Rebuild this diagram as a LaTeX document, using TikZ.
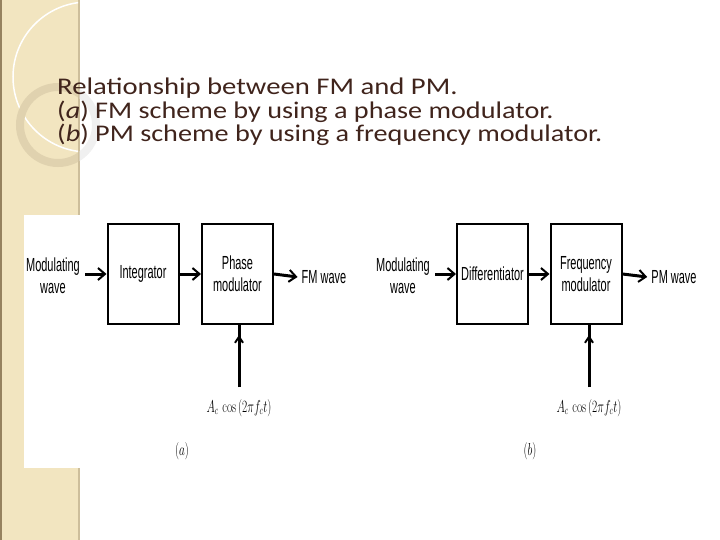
\documentclass[tikz,border=0pt]{standalone}
\usepackage[no-math]{fontspec}
\setmainfont{Carlito}
\newfontfamily\diagfont{Liberation Sans}
\usetikzlibrary{arrows.meta,calc}

\definecolor{stripc}{RGB}{242,229,192}
\definecolor{stripedge}{RGB}{150,130,95}
\definecolor{stripshadow}{RGB}{205,190,155}
\definecolor{ringc}{RGB}{224,210,175}
\definecolor{titlec}{RGB}{64,36,28}

\newcommand\nr[1]{\scalebox{0.58}[1]{#1}}
\newcommand\tw[1]{\scalebox{1.18}[1]{#1}}
\newcommand\mth[1]{\scalebox{0.66}[1]{#1}}

\begin{document}
\begin{tikzpicture}[x=1bp,y=-1bp,
  blk/.style={draw,line width=2bp,minimum width=71bp,minimum height=100bp,inner sep=0,
    font=\diagfont\fontsize{19}{22}\selectfont,align=center},
  lbl/.style={font=\diagfont\fontsize{19}{22}\selectfont,align=center,inner sep=0},
  mlbl/.style={font=\fontsize{18}{20}\selectfont,inner sep=0},
  ttl/.style={anchor=base west,inner sep=0,text=titlec,font=\fontsize{24}{24}\selectfont},
  flow/.style={line width=3bp,-{Straight Barb[length=7bp,width=12bp,line width=2bp]}},
  vflow/.style={line width=3bp,-{Straight Barb[length=6bp,width=8bp,line width=2bp]}}]

\useasboundingbox (0,0) rectangle (720,540);

% background strip
\fill[stripc] (0,0) rectangle (78,540);
\draw[stripedge,line width=1.5bp] (0.75,0) -- (0.75,540);
\draw[stripshadow,line width=1.5bp] (78.75,0) -- (78.75,540);
\begin{scope}
  \clip (0,0) rectangle (78,540);
  \draw[white,line width=1.5bp] (88,77) circle (75);
  \draw[ringc,line width=8bp] (58,125) circle (38);
\end{scope}
\begin{scope}
  \clip (79.5,0) rectangle (720,540);
  \draw[black!6,line width=8bp] (58,125) circle (38);
\end{scope}

% diagram panel
\fill[white] (24,215) rectangle (720,468);

% title
\node[ttl] (t1) at (57,95) {\scalebox{1.2}[1]{Relationship between FM and PM.}};
\node[ttl] (t2) at (57,118.5) {\tw{(\textit{a}) FM scheme by using a phase modulator.}};
\node[ttl] (t3) at (57,142) {\tw{(\textit{b}) PM scheme by using a frequency modulator.}};

% (a)
\node[lbl] (mwa) at (53,276) {\nr{Modulating}\\\nr{wave}};
\node[blk] (int) at (143,274) {\nr{Integrator}};
\node[blk] (pm) at (237.5,274) {\nr{Phase}\\\nr{modulator}};
\node[lbl] (fmw) at (324,277) {\nr{FM wave}};
\node[mlbl] (ca) at (239,408) {\mth{$A_c\,\cos\,(2\pi f_c t)$}};
\coordinate (sa) at (239,387);
\node[mlbl,font=\fontsize{19}{20}\selectfont] (la) at (182,451) {\mth{$(a)$}};

\draw[flow,shorten <=5bp] (mwa.east |- int.west) -- (int.west);
\draw[flow] (int.east) -- (pm.west);
\draw[flow] (pm.east) -- ([xshift=-4bp]fmw.west);
\draw[line width=3bp] (sa) -- (sa |- pm.south);
\draw[vflow,shorten >=10bp] (sa) -- (sa |- pm.south);

% (b)
\node[lbl] (mwb) at (403,276) {\nr{Modulating}\\\nr{wave}};
\node[blk] (dif) at (492.5,274) {\nr{Differentiator}};
\node[blk] (fqm) at (586,274) {\nr{Frequency}\\\nr{modulator}};
\node[lbl] (pmw) at (674,277) {\nr{PM wave}};
\node[mlbl] (cb) at (589,408) {\mth{$A_c\,\cos\,(2\pi f_c t)$}};
\coordinate (sb) at (589,387);
\node[mlbl,font=\fontsize{19}{20}\selectfont] (lb) at (530,451) {\mth{$(b)$}};

\draw[flow,shorten <=5bp] (mwb.east |- dif.west) -- (dif.west);
\draw[flow] (dif.east) -- (fqm.west);
\draw[flow] (fqm.east) -- ([xshift=-4bp]pmw.west);
\draw[line width=3bp] (sb) -- (sb |- fqm.south);
\draw[vflow,shorten >=10bp] (sb) -- (sb |- fqm.south);
\end{tikzpicture}
\end{document}
